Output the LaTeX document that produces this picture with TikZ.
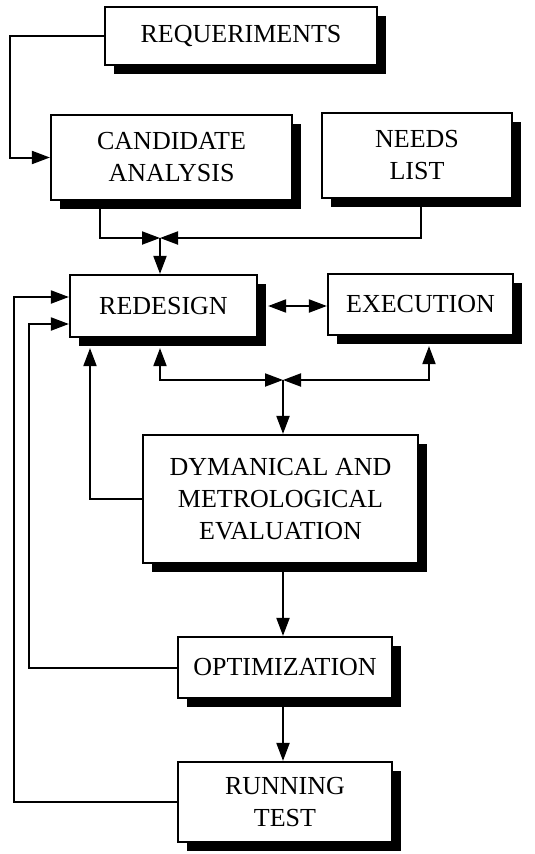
\documentclass[tikz,border=0pt]{standalone}
\usepackage{fontspec}
\setmainfont{Liberation Serif}
\usetikzlibrary{arrows.meta,shadows}
\tikzset{
  blk/.style={draw,line width=2.2pt,fill=white,align=center,
    font=\fontsize{26}{32}\selectfont,
    drop shadow={shadow xshift=9pt,shadow yshift=-9pt,fill=black,opacity=1}},
  arr/.style={line width=2pt,-{Triangle[length=18pt,width=13pt]}},
  dbl/.style={line width=2pt,{Triangle[length=18pt,width=13pt]}-{Triangle[length=18pt,width=13pt]}}
}
\begin{document}
\begin{tikzpicture}[x=1pt,y=-1pt]%design loop
\useasboundingbox (0,0) rectangle (535,854);
\node[blk,minimum width=272pt,minimum height=58pt] (req) at (241,36) {REQUERIMENTS};
\node[blk,minimum width=241pt,minimum height=85pt] (cand) at (171.5,157.5) {CANDIDATE\\ANALYSIS};
\node[blk,minimum width=190pt,minimum height=85pt] (needs) at (417,155.5) {NEEDS\\LIST};
\node[blk,minimum width=187pt,minimum height=62pt] (redes) at (163.5,306) {REDESIGN};
\node[blk,minimum width=185pt,minimum height=61pt] (exec) at (420.5,304.5) {EXECUTION};
\node[blk,minimum width=275pt,minimum height=128pt] (dyn) at (280.5,499) {DYMANICAL AND\\METROLOGICAL\\EVALUATION};
\node[blk,minimum width=214pt,minimum height=61pt] (opt) at (285,667.5) {OPTIMIZATION};
\node[blk,minimum width=214pt,minimum height=80pt] (run) at (285,802) {RUNNING\\TEST};
\coordinate (j1) at (160,238);
\coordinate (j2) at (283,380);
% inputs
\draw[arr] (req.west) -- ++(-94,0) |- (cand.west);
\draw[arr] ([xshift=-71.5pt]cand.south) |- (j1);
\draw[arr] ([xshift=4pt]needs.south) |- (j1);
\draw[arr] (j1) -- (j1 |- redes.north);
% redesign / execution
\draw[dbl,shorten <=10pt] (redes.east) -- (exec.west |- redes.east);
\draw[dbl,shorten <=10pt] ([xshift=-3.5pt]redes.south) |- (j2);
\draw[dbl,shorten <=10pt] ([xshift=8.5pt]exec.south) |- (j2);
\draw[arr] (j2) -- (j2 |- dyn.north);
% evaluation chain
\draw[arr] (dyn.south -| j2) -- (j2 |- opt.north);
\draw[arr] (opt.south -| j2) -- (j2 |- run.north);
% feedback
\draw[arr,shorten >=10pt] (dyn.west) -| ([xshift=-73.5pt]redes.south);
\draw[arr] (opt.west) -- ++(-148,0) |- ([yshift=-18pt]redes.west);
\draw[arr] (run.west) -- ++(-163,0) |- ([yshift=9pt]redes.west);
\end{tikzpicture}
\end{document}
